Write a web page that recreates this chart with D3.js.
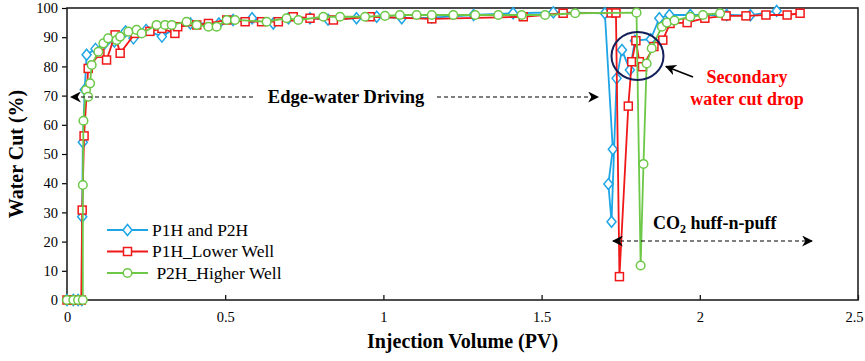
<!DOCTYPE html>
<html>
<head>
<meta charset="utf-8">
<script src="https://cdnjs.cloudflare.com/ajax/libs/d3/7.8.5/d3.min.js"></script>
<style>
  body { margin: 0; background: #fff; }
</style>
</head>
<body>
<div id="chart"></div>
<script>
// data: [injection volume (PV), water cut (%)]
var bothWells = [
  [0,0],[0.02,0],[0.035,0],[0.047,0],[0.048,28.5],[0.05,54],[0.056,72],[0.062,84],[0.09,86],[0.12,88],
  [0.15,88.5],[0.185,92],[0.21,89.6],[0.25,92.5],[0.30,90.2],[0.34,93],[0.39,94.7],[0.48,94.7],[0.525,95.9],
  [0.585,96.5],[0.652,94.7],[0.70,96.5],[0.768,96.5],[0.825,96],[0.915,96.5],[0.979,97],[1.058,96.5],
  [1.153,96.7],[1.285,97.6],[1.41,98.2],[1.537,98.5],[1.70,98.2],
  [1.725,51.6],[1.711,39.7],[1.721,26.8],[1.737,75.9],[1.754,85.6],[1.779,78.8],[1.795,88.8],[1.845,89.3],
  [1.872,96.5],[1.904,97.6],[1.97,97.6],[2.085,97.6],[2.16,97.5],[2.243,99]
];
var lowerWell = [
  [0,0],[0.02,0],[0.035,0],[0.045,0],[0.048,30.8],[0.054,56.2],[0.067,79.3],[0.104,84.5],[0.125,82.2],
  [0.152,90.8],[0.168,84.5],[0.215,91.3],[0.262,92],[0.30,93],[0.341,91.3],[0.35,93.6],[0.41,94.2],
  [0.447,94.7],[0.505,95.9],[0.563,95.3],[0.615,95.3],[0.668,95.3],[0.715,97],[0.768,96.5],[0.842,95.9],
  [0.958,97],[1.153,96.3],[1.442,97],[1.568,98.2],[1.72,98.3],[1.735,98.3],
  [1.746,8],[1.774,66.4],[1.785,81.6],[1.798,88.8],[1.809,81.6],[1.819,79.9],[1.855,86.8],[1.883,89],
  [1.906,94.7],[1.96,95],[2.016,96.5],[2.083,97.3],[2.146,97.3],[2.209,97.6],[2.276,97.6],[2.317,98.2]
];
var higherWell = [
  [0,0],[0.02,0],[0.035,0],[0.05,0],[0.05,39.4],[0.052,61.4],[0.06,71.9],[0.067,69.6],[0.073,74.2],
  [0.078,80.5],[0.099,85],[0.115,87.9],[0.13,89.6],[0.157,89],[0.168,90.2],[0.194,91.9],[0.22,92.5],
  [0.236,91.3],[0.283,94.2],[0.31,94.2],[0.331,94.2],[0.378,95.3],[0.41,94.2],[0.447,93.6],[0.473,93.6],
  [0.505,95.9],[0.531,95.9],[0.631,95.3],[0.694,96.5],[0.731,95.9],[0.81,97],[0.863,97],[0.942,97],
  [1.005,97.3],[1.052,97.6],[1.105,97.6],[1.153,97.6],[1.221,97.6],[1.29,97.6],[1.363,97.6],[1.437,97.6],
  [1.511,97.6],[1.606,98.2],[1.80,98.4],
  [1.813,11.8],[1.822,46.6],[1.832,81],[1.848,86.2],[1.88,93.6],[1.896,95],[1.92,95.7],[1.97,97],
  [2.01,97.6],[2.064,98.2]
];

var seriesNames = ["P1H and P2H", "P1H_Lower Well", " P2H_Higher Well"];
var xTicks = [0, 0.5, 1, 1.5, 2, 2.5];
var yTicks = [0, 10, 20, 30, 40, 50, 60, 70, 80, 90, 100];

var FONT = '"Liberation Serif", "Times New Roman", "DejaVu Serif", serif';
var dim = { width: 865, height: 361, left: 67, right: 858, top: 8, bottom: 300 };

var series = [
  { name: seriesNames[0], data: bothWells, color: '#1ea5e6', shape: 'diamond' },
  { name: seriesNames[1], data: lowerWell, color: '#f01818', shape: 'square' },
  { name: seriesNames[2], data: higherWell, color: '#6cc846', shape: 'circle' }
];

var svg = d3.select('#chart').append('svg')
  .attr('width', dim.width).attr('height', dim.height)
  .attr('font-family', FONT).style('font-family', FONT);

var xScale = d3.scaleLinear().domain([0, 2.5]).range([dim.left, dim.right]);
var yScale = d3.scaleLinear().domain([0, 100]).range([dim.bottom, dim.top]);

var defs = svg.append('defs');
defs.append('marker').attr('id', 'head')
  .attr('viewBox', '0 0 10 10').attr('refX', 9).attr('refY', 5)
  .attr('markerWidth', 11).attr('markerHeight', 11).attr('markerUnits', 'userSpaceOnUse')
  .attr('orient', 'auto-start-reverse')
  .append('path').attr('d', 'M0,0 L10,5 L0,10 L3,5 Z').attr('fill', '#000');

// axes
var yAxis = d3.axisLeft(yScale).tickValues(yTicks).tickSize(5).tickPadding(4);
var xAxis = d3.axisBottom(xScale).tickValues(xTicks).tickSize(-5).tickPadding(12)
  .tickFormat(d3.format('~g'));

var gy = svg.append('g').attr('transform', `translate(${dim.left},0)`).call(yAxis);
var gx = svg.append('g').attr('transform', `translate(0,${dim.bottom})`).call(xAxis);
[gx, gy].forEach(function (g) {
  g.attr('font-family', FONT).attr('font-size', 14.5);
  g.select('.domain').remove();
  g.selectAll('line').attr('stroke', '#000').attr('stroke-width', 1.2);
  g.selectAll('text').attr('fill', '#000');
});
// keep the last x label inside the page
gx.selectAll('.tick text').filter(d => d === 2.5).attr('dx', -4);

svg.append('rect')
  .attr('x', dim.left).attr('y', dim.top)
  .attr('width', dim.right - dim.left).attr('height', dim.bottom - dim.top)
  .attr('fill', 'none').attr('stroke', '#222').attr('stroke-width', 1.6);

svg.append('text')
  .attr('x', (dim.left + dim.right) / 2).attr('y', 348)
  .attr('text-anchor', 'middle').attr('font-size', 20).attr('font-weight', 'bold')
  .text('Injection Volume (PV)');

svg.append('text')
  .attr('transform', `translate(23,${(dim.top + dim.bottom) / 2}) rotate(-90)`)
  .attr('text-anchor', 'middle').attr('font-size', 20).attr('font-weight', 'bold')
  .text('Water Cut (%)');

// series
var line = d3.line().x(d => xScale(d[0])).y(d => yScale(d[1]));

function drawMarker(g, shape, color, cx, cy) {
  if (shape === 'diamond') {
    g.append('path').attr('d', `M${cx},${cy - 5.5} L${cx + 4.5},${cy} L${cx},${cy + 5.5} L${cx - 4.5},${cy} Z`)
      .attr('fill', '#fff').attr('stroke', color).attr('stroke-width', 1.5);
  } else if (shape === 'square') {
    g.append('rect').attr('x', cx - 4).attr('y', cy - 4).attr('width', 8).attr('height', 8)
      .attr('fill', '#fff').attr('stroke', color).attr('stroke-width', 1.5);
  } else {
    g.append('circle').attr('cx', cx).attr('cy', cy).attr('r', 4.3)
      .attr('fill', '#fff').attr('stroke', color).attr('stroke-width', 1.5);
  }
}

series.forEach(function (s) {
  var g = svg.append('g');
  g.append('path').datum(s.data)
    .attr('d', line).attr('fill', 'none')
    .attr('stroke', s.color).attr('stroke-width', 1.8);
  s.data.forEach(function (d) {
    drawMarker(g, s.shape, s.color, xScale(d[0]), yScale(d[1]));
  });
});

// legend
var legend = svg.append('g');
series.forEach(function (s, i) {
  var ly = 230 + i * 21.5;
  legend.append('line').attr('x1', 107).attr('x2', 148).attr('y1', ly).attr('y2', ly)
    .attr('stroke', s.color).attr('stroke-width', 1.8);
  drawMarker(legend, s.shape, s.color, 127.5, ly);
  legend.append('text').attr('x', 152).attr('y', ly + 5.5)
    .attr('font-size', 17.5).style('white-space', 'pre')
    .text(s.name);
});

// annotations
var annot = svg.append('g');
annot.append('line').attr('x1', 253).attr('x2', 71).attr('y1', 97).attr('y2', 97)
  .attr('stroke', '#000').attr('stroke-width', 1.1).attr('stroke-dasharray', '4,3')
  .attr('marker-end', 'url(#head)');
annot.append('line').attr('x1', 437).attr('x2', 598).attr('y1', 97).attr('y2', 97)
  .attr('stroke', '#000').attr('stroke-width', 1.1).attr('stroke-dasharray', '4,3')
  .attr('marker-end', 'url(#head)');
annot.append('text').attr('x', 346).attr('y', 103).attr('text-anchor', 'middle')
  .attr('font-size', 18.5).attr('font-weight', 'bold').text('Edge-water Driving');

annot.append('ellipse').attr('cx', 637.5).attr('cy', 56).attr('rx', 26).attr('ry', 24)
  .attr('fill', 'none').attr('stroke', '#14205a').attr('stroke-width', 2);
annot.append('line').attr('x1', 693).attr('y1', 77).attr('x2', 666).attr('y2', 66.5)
  .attr('stroke', '#000').attr('stroke-width', 1.5).attr('marker-end', 'url(#head)');
annot.append('text').attr('x', 747).attr('y', 83).attr('text-anchor', 'middle')
  .attr('font-size', 18).attr('font-weight', 'bold').attr('fill', '#ff0000').text('Secondary');
annot.append('text').attr('x', 747).attr('y', 104.5).attr('text-anchor', 'middle')
  .attr('font-size', 18).attr('font-weight', 'bold').attr('fill', '#ff0000').text('water cut drop');

annot.append('line').attr('x1', 613).attr('x2', 812).attr('y1', 241).attr('y2', 241)
  .attr('stroke', '#000').attr('stroke-width', 1.1).attr('stroke-dasharray', '4,3')
  .attr('marker-start', 'url(#head)').attr('marker-end', 'url(#head)');
var co2 = annot.append('text').attr('x', 653).attr('y', 229)
  .attr('font-size', 18).attr('font-weight', 'bold');
co2.append('tspan').text('CO');
co2.append('tspan').attr('font-size', 12).attr('dy', 4).text('2');
co2.append('tspan').attr('dy', -4).text(' huff-n-puff');
</script>
</body>
</html>
